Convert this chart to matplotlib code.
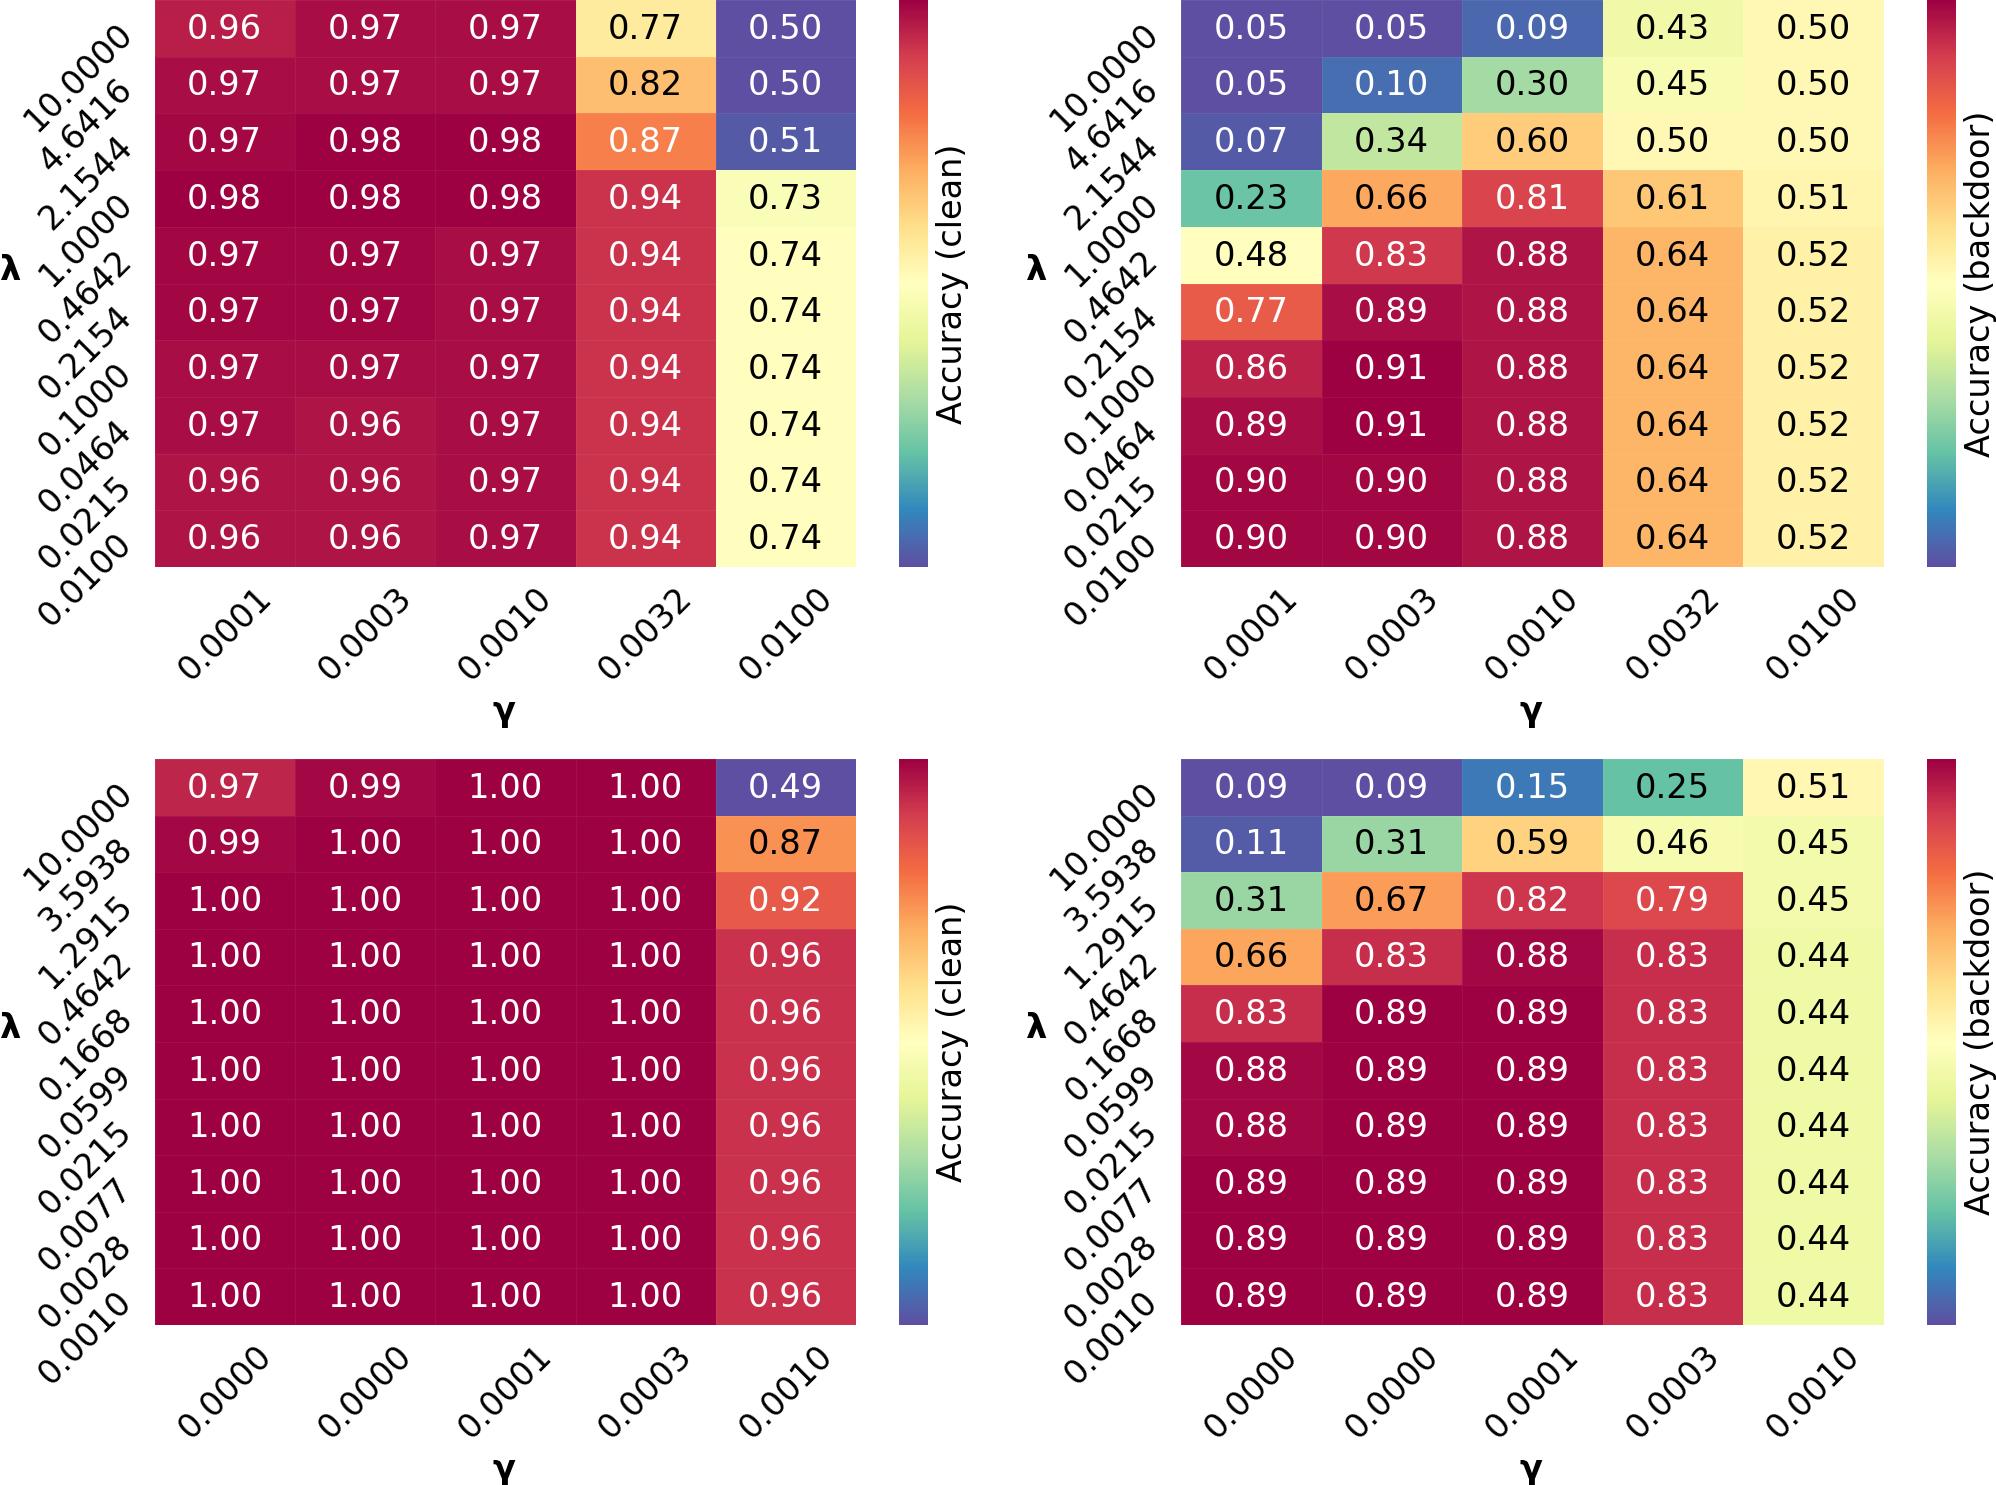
import numpy as np
import matplotlib
matplotlib.use('Agg')
import matplotlib.pyplot as plt

W, H = 1996, 1485
FONT = 12.1
TICK_FONT = 12.0

lambdas_top = ['10.0000', '4.6416', '2.1544', '1.0000', '0.4642', '0.2154', '0.1000', '0.0464', '0.0215', '0.0100']
lambdas_bottom = ['10.0000', '3.5938', '1.2915', '0.4642', '0.1668', '0.0599', '0.0215', '0.0077', '0.0028', '0.0010']
gammas_top = ['0.0001', '0.0003', '0.0010', '0.0032', '0.0100']
gammas_bottom = ['0.0000', '0.0000', '0.0001', '0.0003', '0.0010']

clean_top = [
	[0.956, 0.97, 0.97, 0.77, 0.50],
	[0.97, 0.97, 0.97, 0.82, 0.50],
	[0.974, 0.98, 0.98, 0.87, 0.51],
	[0.98, 0.98, 0.98, 0.94, 0.73],
	[0.975, 0.975, 0.97, 0.94, 0.74],
	[0.975, 0.975, 0.97, 0.94, 0.74],
	[0.97, 0.97, 0.97, 0.94, 0.74],
	[0.97, 0.964, 0.97, 0.94, 0.74],
	[0.964, 0.964, 0.97, 0.94, 0.74],
	[0.964, 0.964, 0.97, 0.94, 0.74],
]
backdoor_top = [
	[0.05, 0.05, 0.09, 0.43, 0.50],
	[0.05, 0.10, 0.30, 0.45, 0.50],
	[0.07, 0.34, 0.60, 0.50, 0.50],
	[0.23, 0.66, 0.81, 0.61, 0.51],
	[0.48, 0.83, 0.88, 0.64, 0.52],
	[0.77, 0.89, 0.88, 0.64, 0.52],
	[0.86, 0.91, 0.88, 0.64, 0.52],
	[0.89, 0.91, 0.88, 0.64, 0.52],
	[0.90, 0.90, 0.88, 0.64, 0.52],
	[0.90, 0.90, 0.88, 0.64, 0.52],
]
clean_bottom = [
	[0.97, 0.993, 1.00, 1.00, 0.49],
	[0.993, 1.00, 1.00, 1.00, 0.87],
	[1.00, 1.00, 1.00, 1.00, 0.92],
	[1.00, 1.00, 1.00, 1.00, 0.96],
	[1.00, 1.00, 1.00, 1.00, 0.96],
	[1.00, 1.00, 1.00, 1.00, 0.96],
	[1.00, 1.00, 1.00, 1.00, 0.96],
	[1.00, 1.00, 1.00, 1.00, 0.96],
	[1.00, 1.00, 1.00, 1.00, 0.96],
	[1.00, 1.00, 1.00, 1.00, 0.96],
]
backdoor_bottom = [
	[0.09, 0.09, 0.15, 0.25, 0.51],
	[0.11, 0.31, 0.59, 0.46, 0.45],
	[0.31, 0.67, 0.82, 0.79, 0.45],
	[0.66, 0.83, 0.88, 0.83, 0.44],
	[0.83, 0.89, 0.89, 0.83, 0.44],
	[0.88, 0.89, 0.89, 0.83, 0.44],
	[0.88, 0.89, 0.89, 0.83, 0.44],
	[0.89, 0.89, 0.89, 0.83, 0.44],
	[0.89, 0.89, 0.89, 0.83, 0.44],
	[0.89, 0.89, 0.89, 0.83, 0.44],
]

def luminance(color):
	rgb = np.array(color[:3])
	rgb = np.where(rgb <= 0.03928, rgb / 12.92, ((rgb + 0.055) / 1.055) ** 2.4)
	return rgb.dot([0.2126, 0.7152, 0.0722])

def draw_panel(fig, box, values, lams, gams, label):
	left, top, right, bottom = box
	ax = fig.add_axes([left / W, 1 - bottom / H, (right - left) / W, (bottom - top) / H])
	cax = fig.add_axes([(right + 43) / W, 1 - bottom / H, 29 / W, (bottom - top) / H])

	values = np.array(values)
	# faint edges stand in for the light seams between cells
	mesh = ax.pcolormesh(values, cmap='Spectral_r', edgecolors=(1, 1, 1, 0.06), linewidth=0.3)
	ax.invert_yaxis()
	for i in range(values.shape[0]):
		for j in range(values.shape[1]):
			col = mesh.cmap(mesh.norm(values[i, j]))
			txt = 'k' if luminance(col) > 0.408 else 'w'
			ax.text(j + 0.497, i + 0.515, f'{values[i, j]:.2f}', color=txt, fontsize=FONT, ha='center', va='center')

	ax.set_xticks(np.arange(len(gams)) + 0.5)
	ax.set_yticks(np.arange(len(lams)) + 0.5)
	ax.set_xticklabels(gams, rotation=45, ha='center', fontsize=TICK_FONT)
	ax.set_yticklabels(lams, rotation=45, ha='right', va='center', rotation_mode='anchor', fontsize=TICK_FONT)
	ax.tick_params(axis='x', length=0, pad=5)
	ax.tick_params(axis='y', length=0, pad=10)
	for s in ax.spines.values():
		s.set_visible(False)

	ax.set_xlabel('γ', fontweight='bold', fontsize=FONT, va='center')
	ax.xaxis.set_label_coords(0.498, -0.255)
	ax.set_ylabel('λ', fontweight='bold', fontsize=FONT, rotation=0, ha='center', va='center')
	ax.yaxis.set_label_coords(-0.207, 0.523)

	cbar = fig.colorbar(mesh, cax=cax)
	cbar.set_ticks([])
	cbar.outline.set_visible(False)
	cbar.set_label(label, fontsize=FONT, va='center')
	cbar.ax.yaxis.set_label_coords(1.83, 0.5)


if __name__ == "__main__":
	fig = plt.figure(figsize=(W / 200, H / 200), dpi=200)
	draw_panel(fig, (155, 0, 856, 567), clean_top, lambdas_top, gammas_top, 'Accuracy (clean)')
	draw_panel(fig, (1181, 0, 1884, 567), backdoor_top, lambdas_top, gammas_top, 'Accuracy (backdoor)')
	draw_panel(fig, (155, 759, 856, 1325), clean_bottom, lambdas_bottom, gammas_bottom, 'Accuracy (clean)')
	draw_panel(fig, (1181, 759, 1884, 1325), backdoor_bottom, lambdas_bottom, gammas_bottom, 'Accuracy (backdoor)')
	fig.savefig('out.png', dpi=200)
